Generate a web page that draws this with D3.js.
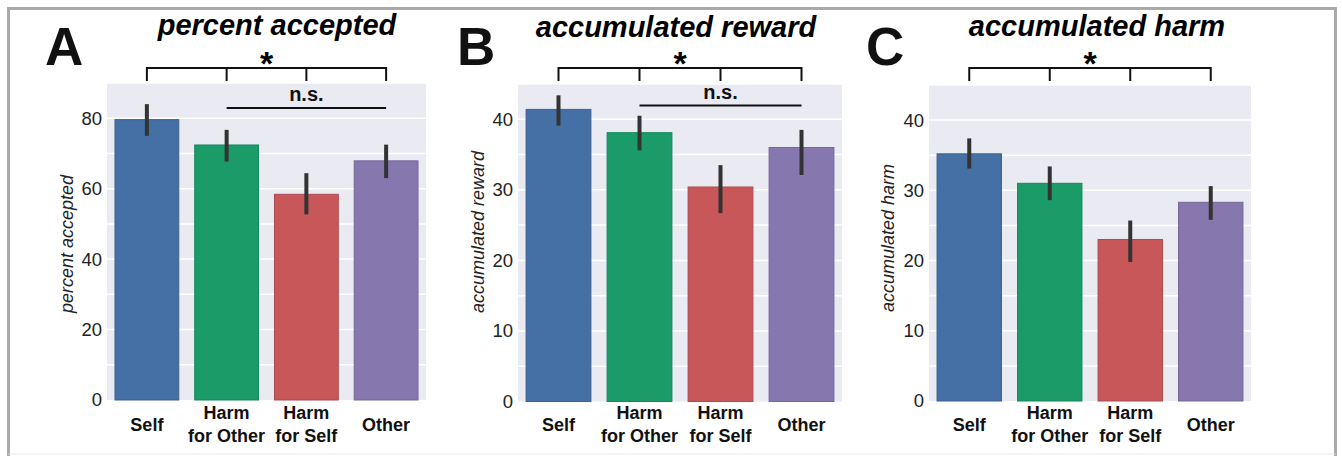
<!DOCTYPE html>
<html>
<head>
<meta charset="utf-8">
<script src="https://cdn.jsdelivr.net/npm/d3@7"></script>
<style>
  body { margin: 0; background: #fff; }
  svg { display: block; font-family: "Liberation Sans", Arial, Helvetica, sans-serif; }
</style>
</head>
<body>
<svg width="1342" height="456"></svg>
<script>
// categories shared by all three panels
const categories = ["Self", "Harm for Other", "Harm for Self", "Other"];
const categoryLines = [["Self"], ["Harm", "for Other"], ["Harm", "for Self"], ["Other"]];
const barColors = ["#4470a5", "#1b9b68", "#c8575a", "#8677af"];

// A: percent accepted
const acceptedMean = [79.6, 72.4, 58.4, 67.9];
const acceptedLow = [75.0, 67.7, 52.7, 63.0];
const acceptedHigh = [84.0, 76.7, 64.4, 72.5];
const acceptedTicks = [0, 20, 40, 60, 80];
const acceptedGrid = [10, 20, 30, 40, 50, 60, 70, 80, 90];

// B: accumulated reward
const rewardMean = [41.4, 38.1, 30.4, 36.0];
const rewardLow = [39.1, 35.6, 26.7, 32.1];
const rewardHigh = [43.4, 40.5, 33.5, 38.5];
const rewardTicks = [0, 10, 20, 30, 40];
const rewardGrid = [5, 10, 15, 20, 25, 30, 35, 40, 45];

// C: accumulated harm
const harmMean = [35.2, 31.0, 23.0, 28.3];
const harmLow = [33.1, 28.6, 19.8, 25.8];
const harmHigh = [37.4, 33.4, 25.7, 30.6];
const harmTicks = [0, 10, 20, 30, 40];
const harmGrid = [5, 10, 15, 20, 25, 30, 35, 40, 45];

const panels = [
  { letter: "A", title: "percent accepted", ylabel: "percent accepted",
    mean: acceptedMean, low: acceptedLow, high: acceptedHigh,
    ticks: acceptedTicks, grid: acceptedGrid, ymax: 90, ns: true,
    x0: 107, x1: 426, top: 83, bottom: 400,
    letterX: 45, titleX: 277, titleY: 35, labelX: 73, labelY: 244 },
  { letter: "B", title: "accumulated reward", ylabel: "accumulated reward",
    mean: rewardMean, low: rewardLow, high: rewardHigh,
    ticks: rewardTicks, grid: rewardGrid, ymax: 45, ns: true,
    x0: 518, x1: 842, top: 84, bottom: 401.5,
    letterX: 457, titleX: 676, titleY: 37, labelX: 484, labelY: 232 },
  { letter: "C", title: "accumulated harm", ylabel: "accumulated harm",
    mean: harmMean, low: harmLow, high: harmHigh,
    ticks: harmTicks, grid: harmGrid, ymax: 45, ns: false,
    x0: 929, x1: 1251, top: 85, bottom: 401,
    letterX: 866, titleX: 1097, titleY: 36, labelX: 894, labelY: 238 }
];

const svg = d3.select("svg");

// outer frame: strong on three sides, faint at the bottom
svg.append("path")
  .attr("d", "M8.5,456 V8.5 H1335.5 V456")
  .attr("fill", "none")
  .attr("stroke", "#a9a9a9")
  .attr("stroke-width", 3);
svg.append("line")
  .attr("x1", 8.5).attr("x2", 1335.5)
  .attr("y1", 454).attr("y2", 454)
  .attr("stroke", "#e6e6e6")
  .attr("stroke-width", 1);

panels.forEach(function (p) {
  const g = svg.append("g");

  const xScale = d3.scaleBand()
    .domain(categories)
    .range([p.x0, p.x1])
    .paddingInner(0.2)
    .paddingOuter(0.1);

  const yScale = d3.scaleLinear()
    .domain([0, p.ymax])
    .range([p.bottom, p.top]);

  // plot background
  g.append("rect")
    .attr("x", p.x0).attr("y", p.top)
    .attr("width", p.x1 - p.x0).attr("height", p.bottom - p.top)
    .attr("fill", "#eaeaf2");

  // white gridlines
  g.selectAll(".grid")
    .data(p.grid)
    .enter()
    .append("line")
    .attr("x1", p.x0).attr("x2", p.x1)
    .attr("y1", d => yScale(d)).attr("y2", d => yScale(d))
    .attr("stroke", "#fff")
    .attr("stroke-width", 1.5);

  // y axis labels only
  const yAxis = d3.axisLeft(yScale).tickValues(p.ticks).tickSize(0).tickPadding(5);
  const ax = g.append("g")
    .attr("transform", `translate(${p.x0}, 0)`)
    .call(yAxis);
  ax.select(".domain").remove();
  ax.selectAll("text")
    .style("font-size", "18.5px")
    .style("font-family", "'Liberation Sans', Arial, sans-serif")
    .attr("fill", "#222");

  // bars
  g.selectAll(".bar")
    .data(categories)
    .enter()
    .append("rect")
    .attr("x", d => xScale(d))
    .attr("y", (d, i) => yScale(p.mean[i]))
    .attr("width", xScale.bandwidth())
    .attr("height", (d, i) => yScale(0) - yScale(p.mean[i]))
    .attr("fill", (d, i) => barColors[i])
    .attr("stroke", (d, i) => d3.color(barColors[i]).darker(0.4))
    .attr("stroke-width", 1);

  // error bars
  g.selectAll(".err")
    .data(categories)
    .enter()
    .append("line")
    .attr("x1", d => xScale(d) + xScale.bandwidth() / 2)
    .attr("x2", d => xScale(d) + xScale.bandwidth() / 2)
    .attr("y1", (d, i) => yScale(p.low[i]))
    .attr("y2", (d, i) => yScale(p.high[i]))
    .attr("stroke", "#333")
    .attr("stroke-width", 4);

  // category labels
  categories.forEach(function (c, i) {
    const lines = categoryLines[i];
    const cx = xScale(c) + xScale.bandwidth() / 2;
    const t = g.append("text")
      .attr("x", cx)
      .attr("text-anchor", "middle")
      .style("font-size", "18px")
      .style("font-weight", "bold")
      .attr("fill", "#111");
    lines.forEach(function (line, k) {
      const y = lines.length === 1 ? 431 : 419 + k * 23;
      t.append("tspan").attr("x", cx).attr("y", y).text(line);
    });
  });

  // y axis title
  g.append("text")
    .attr("transform", `translate(${p.labelX}, ${p.labelY}) rotate(-90)`)
    .attr("text-anchor", "middle")
    .style("font-size", "18px")
    .style("font-style", "italic")
    .attr("fill", "#222")
    .text(p.ylabel);

  // panel title
  g.append("text")
    .attr("x", p.titleX).attr("y", p.titleY)
    .attr("text-anchor", "middle")
    .style("font-size", "29px")
    .style("font-weight", "bold")
    .style("font-style", "italic")
    .attr("fill", "#000")
    .text(p.title);

  // panel letter
  g.append("text")
    .attr("x", p.letterX).attr("y", 65)
    .style("font-size", "53px")
    .style("font-weight", "bold")
    .attr("fill", "#111")
    .text(p.letter);

  // significance bracket across all conditions
  const centers = categories.map(c => xScale(c) + xScale.bandwidth() / 2);
  g.append("line")
    .attr("x1", centers[0]).attr("x2", centers[3])
    .attr("y1", 68).attr("y2", 68)
    .attr("stroke", "#111").attr("stroke-width", 2);
  g.selectAll(".tick-down")
    .data(centers)
    .enter()
    .append("line")
    .attr("x1", d => d).attr("x2", d => d)
    .attr("y1", 67).attr("y2", 81)
    .attr("stroke", "#111").attr("stroke-width", 2);
  g.append("text")
    .attr("x", (centers[0] + centers[3]) / 2).attr("y", 75)
    .attr("text-anchor", "middle")
    .style("font-size", "34px")
    .style("font-weight", "bold")
    .attr("fill", "#000")
    .text("*");

  if (p.ns) {
    const nsY = p.letter === "A" ? 108 : 105.5;
    g.append("line")
      .attr("x1", centers[1]).attr("x2", centers[3])
      .attr("y1", nsY).attr("y2", nsY)
      .attr("stroke", "#111").attr("stroke-width", 2);
    g.append("text")
      .attr("x", (centers[1] + centers[3]) / 2).attr("y", nsY - 7)
      .attr("text-anchor", "middle")
      .style("font-size", "20px")
      .style("font-weight", "bold")
      .attr("fill", "#111")
      .text("n.s.");
  }
});
</script>
</body>
</html>
